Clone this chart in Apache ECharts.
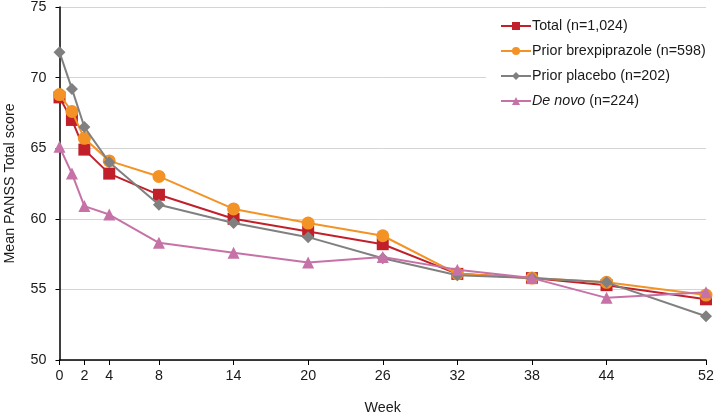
<!DOCTYPE html>
<html>
<head>
<meta charset="utf-8">
<script src="https://cdn.jsdelivr.net/npm/echarts@6/dist/echarts.min.js"></script>
<style>
html,body{margin:0;padding:0;background:#fff;}
#c{width:714px;height:415px;}
</style>
</head>
<body>
<div id="c"></div>
<script>
const weeks = [0, 1, 2, 4, 8, 14, 20, 26, 32, 38, 44, 52];
const tickWeeks = [0, 2, 4, 8, 14, 20, 26, 32, 38, 44, 52];
const total = [68.6, 67.0, 64.9, 63.2, 61.7, 60.0, 59.1, 58.2, 56.1, 55.8, 55.3, 54.3];
const priorBrex = [68.8, 67.6, 65.7, 64.1, 63.0, 60.7, 59.7, 58.8, 56.1, 55.8, 55.5, 54.6];
const priorPlacebo = [71.8, 69.2, 66.5, 64.0, 61.0, 59.7, 58.7, 57.2, 56.0, 55.8, 55.5, 53.1];
const deNovo = [65.1, 63.2, 60.9, 60.3, 58.3, 57.6, 56.9, 57.3, 56.4, 55.8, 54.4, 54.8];
const seriesNames = ['Total (n=1,024)', 'Prior brexpiprazole (n=598)', 'Prior placebo (n=202)', 'De novo (n=224)'];
const yTicks = [50, 55, 60, 65, 70, 75];

const pair = arr => weeks.map((w, i) => [w, arr[i]]);
const font = 'Liberation Sans, Arial, sans-serif';
const fs = 14.3;

const defs = [
  {data: total, color: '#C1202B', symbol: 'rect', size: 12},
  {data: priorBrex, color: '#F39325', symbol: 'circle', size: 13},
  {data: priorPlacebo, color: '#808080', symbol: 'diamond', size: 12},
  {data: deNovo, color: '#C672A7', symbol: 'triangle', size: 12}
];

const chart = echarts.init(document.getElementById('c'), null, {renderer: 'canvas'});
chart.setOption({
  animation: false,
  backgroundColor: '#fff',
  textStyle: {fontFamily: font},
  grid: {left: 59.5, right: 8, top: 7, bottom: 55, containLabel: false, outerBoundsMode: 'none'},
  legend: {
    orient: 'vertical',
    left: 486,
    top: 13,
    padding: [6, 10, 6, 14],
    backgroundColor: '#fff',
    itemWidth: 30,
    itemHeight: 10,
    itemGap: 11,
    textStyle: {fontSize: fs, color: '#1a1a1a', fontFamily: font, padding: [0, 0, 0, -4],
      rich: {i: {fontStyle: 'italic', fontSize: fs, color: '#1a1a1a', fontFamily: font}}},
    formatter: function (name) {
      if (name.indexOf('De novo') === 0) return '{i|De novo}' + name.slice(7);
      return name;
    },
    data: seriesNames
  },
  xAxis: {
    type: 'value',
    min: 0,
    max: 52,
    name: 'Week',
    nameLocation: 'middle',
    nameGap: 41,
    nameTextStyle: {fontSize: fs, color: '#1a1a1a', fontFamily: font},
    axisLine: {show: true, lineStyle: {color: '#000', width: 1.5}},
    axisTick: {show: true, length: 5, lineStyle: {color: '#000', width: 1}, customValues: tickWeeks},
    axisLabel: {fontSize: fs, color: '#1a1a1a', margin: 9, customValues: tickWeeks, fontFamily: font},
    splitLine: {show: false}
  },
  yAxis: {
    type: 'value',
    min: 50,
    max: 75,
    interval: 5,
    name: 'Mean PANSS Total score',
    nameLocation: 'middle',
    nameGap: 42,
    nameTextStyle: {fontSize: fs, color: '#1a1a1a', fontFamily: font},
    axisLine: {show: true, lineStyle: {color: '#000', width: 1.5}},
    axisTick: {show: true, length: 4, lineStyle: {color: '#000'}},
    axisLabel: {fontSize: fs, color: '#1a1a1a', margin: 13, fontFamily: font},
    splitLine: {show: true, lineStyle: {color: '#D4D4D4', width: 1}}
  },
  series: defs.map((d, i) => ({
    name: seriesNames[i],
    type: 'line',
    data: pair(d.data),
    symbol: d.symbol,
    symbolSize: d.size,
    showAllSymbol: true,
    color: d.color,
    lineStyle: {color: d.color, width: 2},
    itemStyle: {color: d.color},
    z: 2 + i
  }))
});
</script>
</body>
</html>
